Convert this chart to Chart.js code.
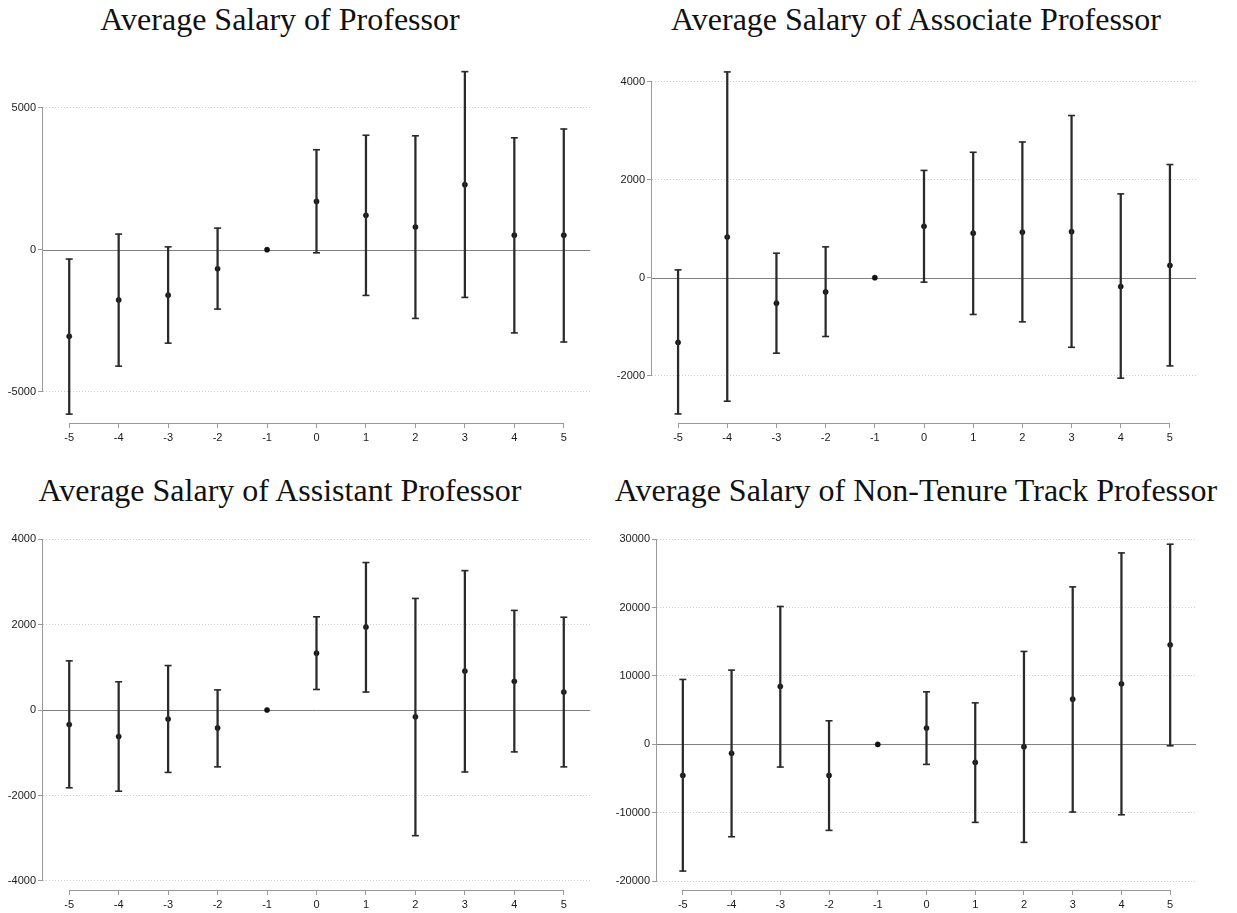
<!DOCTYPE html>
<html>
<head>
<meta charset="utf-8">
<script src="https://cdn.jsdelivr.net/npm/chart.js@4.4.1/dist/chart.umd.min.js"></script>
<style>
  html, body { margin: 0; padding: 0; background: #fff; }
  #fig { position: relative; width: 1237px; height: 913px; overflow: hidden; }
  #fig canvas { position: absolute; }
  .ttl {
    position: absolute;
    font-family: "Liberation Serif", "Times New Roman", serif;
    font-size: 32px;
    line-height: 32px;
    color: #111;
    white-space: nowrap;
    transform: translateX(-50%);
  }
</style>
</head>
<body>
<div id="fig">
  <div class="ttl" style="left:280px; top:3px">Average Salary of Professor</div>
  <div class="ttl" style="left:916px; top:3px">Average Salary of Associate Professor</div>
  <div class="ttl" style="left:280px; top:474px">Average Salary of Assistant Professor</div>
  <div class="ttl" style="left:916px; top:474px">Average Salary of Non-Tenure Track Professor</div>
  <canvas id="profChart" width="618" height="456" style="left:0; top:0"></canvas>
  <canvas id="assocChart" width="627" height="456" style="left:610px; top:0"></canvas>
  <canvas id="asstChart" width="618" height="443" style="left:0; top:470px"></canvas>
  <canvas id="ntChart" width="627" height="443" style="left:610px; top:470px"></canvas>
</div>
<script>
// event time relative to the change (-1 is the omitted base year)
const periods = [-5, -4, -3, -2, -1, 0, 1, 2, 3, 4, 5]

// Professor
const profEst = [-3050, -1770, -1600, -670, 0, 1700, 1210, 800, 2290, 510, 510]
const profLo = [-5790, -4100, -3290, -2090, null, -110, -1610, -2420, -1680, -2930, -3250]
const profHi = [-330, 550, 100, 760, null, 3520, 4030, 4010, 6270, 3940, 4250]
const profTicks = [-5000, 0, 5000]

// Associate professor
const assocEst = [-1320, 830, -520, -290, 0, 1050, 910, 930, 940, -180, 250]
const assocLo = [-2780, -2520, -1540, -1200, null, -90, -750, -900, -1420, -2050, -1800]
const assocHi = [160, 4200, 500, 630, null, 2190, 2560, 2770, 3310, 1710, 2310]
const assocTicks = [-2000, 0, 2000, 4000]

// Assistant professor
const asstEst = [-340, -620, -210, -420, 0, 1330, 1940, -160, 910, 670, 420]
const asstLo = [-1820, -1900, -1460, -1330, null, 480, 420, -2940, -1450, -980, -1330]
const asstHi = [1150, 660, 1040, 470, null, 2180, 3450, 2610, 3260, 2330, 2170]
const asstTicks = [-4000, -2000, 0, 2000, 4000]

// Non-tenure track professor
const ntEst = [-4530, -1310, 8470, -4530, 0, 2380, -2630, -350, 6610, 8850, 14540]
const ntLo = [-18500, -13490, -3310, -12560, null, -2920, -11390, -14310, -9880, -10280, -200]
const ntHi = [9490, 10850, 20150, 3450, null, 7680, 6070, 13580, 23010, 27970, 29240]
const ntTicks = [-20000, -10000, 0, 10000, 20000, 30000]

const AXIS = '#9a9a9a'
const INK = '#2a2a2a'
const tickFont = { family: '"Liberation Sans", Arial, sans-serif', size: 11 }

// axis lines only span the labelled ticks, plus a solid line at zero
const stataAxes = {
    id: 'stataAxes',
    beforeDatasetsDraw(chart) {
        const { ctx, chartArea, scales: { x, y } } = chart
        const yt = y.ticks.map(t => t.value)
        const xt = x.ticks.map(t => t.value)
        ctx.save()
        ctx.lineWidth = 1
        ctx.strokeStyle = '#808080'
        const y0 = Math.round(y.getPixelForValue(0)) + 0.5
        ctx.beginPath()
        ctx.moveTo(chartArea.left, y0)
        ctx.lineTo(chartArea.right, y0)
        ctx.stroke()

        ctx.strokeStyle = AXIS
        const left = Math.round(chartArea.left) - 0.5
        ctx.beginPath()
        ctx.moveTo(left, y.getPixelForValue(Math.max(...yt)))
        ctx.lineTo(left, y.getPixelForValue(Math.min(...yt)))
        ctx.stroke()

        const bottom = Math.round(chartArea.bottom) + 0.5
        ctx.beginPath()
        ctx.moveTo(x.getPixelForValue(Math.min(...xt)), bottom)
        ctx.lineTo(x.getPixelForValue(Math.max(...xt)), bottom)
        ctx.stroke()
        ctx.restore()
    }
}

function makePanel(id, est, lo, hi, yTicks, yRange, box) {
    const whiskers = periods.map((p, i) => ({ x: p, y: lo[i] == null ? null : [lo[i], hi[i]] }))
    const upCaps = periods.map((p, i) => ({ x: p, y: hi[i] }))
    const lowCaps = periods.map((p, i) => ({ x: p, y: lo[i] }))
    const points = periods.map((p, i) => ({ x: p, y: est[i] }))

    const cap = {
        type: 'scatter',
        pointStyle: 'line',
        pointRadius: 3.5,
        pointBorderWidth: 1.6,
        pointBorderColor: INK
    }

    return new Chart(document.getElementById(id), {
        type: 'bar',
        data: {
            datasets: [
                { data: whiskers, backgroundColor: INK, borderWidth: 0, barThickness: 1.6, grouped: false },
                { ...cap, data: upCaps },
                { ...cap, data: lowCaps },
                {
                    type: 'scatter',
                    data: points,
                    pointStyle: 'circle',
                    pointRadius: 2.6,
                    pointBackgroundColor: '#111',
                    pointBorderColor: '#111',
                    pointBorderWidth: 0.5
                }
            ]
        },
        options: {
            responsive: false,
            animation: false,
            events: [],
            layout: { padding: { top: box.top, right: box.right, left: 0, bottom: 0 } },
            plugins: { legend: { display: false }, tooltip: { enabled: false }, title: { display: false } },
            scales: {
                x: {
                    type: 'linear',
                    min: -5.53,
                    max: 5.53,
                    offset: false,
                    afterBuildTicks: s => { s.ticks = periods.map(v => ({ value: v })) },
                    afterFit: s => { s.height = box.xh },
                    ticks: { font: tickFont, color: '#1a1a1a', padding: 3, autoSkip: false, maxRotation: 0, callback: v => String(v) },
                    grid: { offset: false, drawOnChartArea: false, drawTicks: true, tickLength: 5, tickColor: AXIS },
                    border: { display: false }
                },
                y: {
                    type: 'linear',
                    min: yRange[0],
                    max: yRange[1],
                    beginAtZero: false,
                    afterBuildTicks: s => { s.ticks = yTicks.map(v => ({ value: v })) },
                    afterFit: s => { s.width = box.yw },
                    ticks: { font: tickFont, color: '#1a1a1a', padding: 2, callback: v => String(v) },
                    grid: {
                        color: c => (c.tick && c.tick.value === 0 ? 'rgba(0,0,0,0)' : '#cfcfcf'),
                        lineWidth: 1,
                        tickLength: 5,
                        tickColor: AXIS
                    },
                    border: { display: false, dash: [1, 2] }
                }
            }
        },
        plugins: [stataAxes]
    })
}

makePanel('profChart', profEst, profLo, profHi, profTicks, [-6102, 6574], { top: 63, right: 28, yw: 43, xh: 33 })
makePanel('assocChart', assocEst, assocLo, assocHi, assocTicks, [-2965, 4382], { top: 63, right: 41, yw: 42, xh: 33 })
makePanel('asstChart', asstEst, asstLo, asstHi, asstTicks, [-4211, 4211], { top: 60, right: 28, yw: 43, xh: 23 })
makePanel('ntChart', ntEst, ntLo, ntHi, ntTicks, [-21268, 31318], { top: 60, right: 41, yw: 47, xh: 23 })
</script>
</body>
</html>
